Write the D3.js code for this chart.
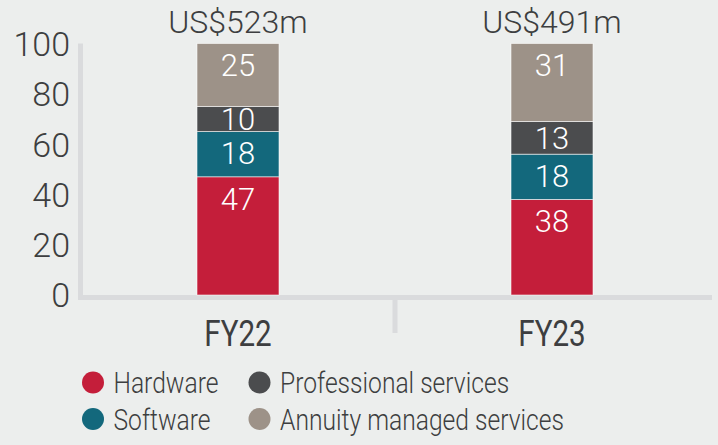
<!DOCTYPE html>
<html><head><meta charset="utf-8">
<script src="https://cdn.jsdelivr.net/npm/d3@7"></script>
<style>
html,body{margin:0;padding:0;background:#eceeed;}
svg{display:block;font-family:Roboto,"Liberation Sans",sans-serif;font-weight:300;}
</style></head>
<body>
<svg id="c" width="718" height="445"></svg>
<script>
const years = ["FY22", "FY23"];
const totals = ["US$523m", "US$491m"];
const seriesNames = ["Hardware", "Software", "Professional services", "Annuity managed services"];
const hardware = [47, 38];
const software = [18, 18];
const professional = [10, 13];
const annuity = [25, 31];
const yTicks = [0, 20, 40, 60, 80, 100];
const colors = ["#c41e3a", "#13687c", "#4b4c4e", "#9d9288"];

const values = [hardware, software, professional, annuity];
const rows = years.map((y, i) => {
  const o = {year: y};
  seriesNames.forEach((s, k) => o[s] = values[k][i]);
  return o;
});
const stacked = d3.stack().keys(seriesNames)(rows);

const svg = d3.select("#c");
const textCol = "#3d3e40";
const axisCol = "#dadbdd";

const x = d3.scalePoint().domain(years).range([81, 709]).padding(0.5);
const y = d3.scaleLinear().domain([0, 100]).range([295, 43.5]);
const barW = 82;

// axes lines
svg.append("line").attr("x1", 80.5).attr("x2", 80.5).attr("y1", y(100)).attr("y2", 300)
  .attr("stroke", axisCol).attr("stroke-width", 5);
svg.append("line").attr("x1", 78).attr("x2", 712).attr("y1", 297.5).attr("y2", 297.5)
  .attr("stroke", axisCol).attr("stroke-width", 5);
// divider between categories
const mid = (x(years[0]) + x(years[1])) / 2;
svg.append("line").attr("x1", mid).attr("x2", mid).attr("y1", 297).attr("y2", 333)
  .attr("stroke", axisCol).attr("stroke-width", 5);

// y axis
const yAxis = d3.axisLeft(y).tickValues(yTicks).tickSize(0).tickPadding(0);
const gy = svg.append("g").attr("transform", "translate(70,0)").call(yAxis);
gy.select(".domain").remove();
gy.selectAll("text").attr("fill", textCol).attr("font-size", 34)
  .attr("font-family", "Roboto").attr("font-weight", 300).attr("dy", "0.35em");

// bars
const layer = svg.append("g").selectAll("g").data(stacked).join("g")
  .attr("fill", (d, i) => colors[i]);
layer.selectAll("rect").data(d => d).join("rect")
  .attr("x", d => x(d.data.year) - barW / 2)
  .attr("width", barW)
  .attr("y", d => y(d[1]))
  .attr("height", d => y(d[0]) - y(d[1]))
  .attr("stroke", "#ffffff").attr("stroke-width", 0.8).attr("stroke-opacity", 0.7);

// segment labels
layer.selectAll("text").data(d => d.map(v => Object.assign({}, v, {key: d.key}))).join("text")
  .attr("x", d => x(d.data.year))
  .attr("y", d => {
    const top = y(d[1]), bot = y(d[0]);
    return Math.min((top + bot) / 2, top + 22);
  })
  .attr("dy", "0.35em")
  .attr("text-anchor", "middle")
  .attr("fill", "#ffffff")
  .attr("font-size", 31)
  .text(d => d[1] - d[0]);

// totals
svg.append("g").selectAll("text").data(years).join("text")
  .attr("x", d => x(d)).attr("y", 33)
  .attr("text-anchor", "middle").attr("fill", textCol).attr("font-size", 32)
  .text((d, i) => totals[i]);

// x labels (condensed)
svg.append("g").selectAll("text").data(years).join("text")
  .attr("transform", d => `translate(${x(d)},345.5) scale(0.8,1)`)
  .attr("text-anchor", "middle").attr("fill", textCol).attr("font-size", 37)
  .attr("font-weight", 400)
  .text(d => d);

// legend
const legendPos = [[93, 382.5], [93, 419], [259.5, 382.5], [259.5, 419]];
const lg = svg.append("g").selectAll("g").data(seriesNames).join("g")
  .attr("transform", (d, i) => `translate(${legendPos[i][0]},${legendPos[i][1]})`);
lg.append("circle").attr("r", 11).attr("fill", (d, i) => colors[i]);
lg.append("text").attr("transform", "translate(20.5,10.5) scale(0.835,1)")
  .attr("fill", textCol).attr("font-size", 29.5).text(d => d);
</script>
</body></html>
